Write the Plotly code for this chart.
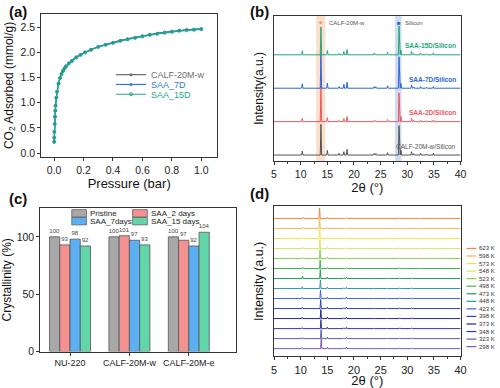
import plotly.graph_objects as go

FONT = "Liberation Sans, Arial, sans-serif"
W, H = 500, 388

# ---------------- (a) CO2 isotherms ----------------
pressure = [0.0005, 0.001, 0.002, 0.004, 0.006, 0.008, 0.01, 0.015, 0.02, 0.03, 0.04, 0.05, 0.06,
            0.07, 0.08, 0.1, 0.12, 0.15, 0.18, 0.21, 0.25, 0.3, 0.35, 0.4, 0.45, 0.5, 0.55,
            0.6, 0.65, 0.7, 0.75, 0.8, 0.85, 0.9, 0.95, 1.0]
uptake_calf = [0.22, 0.30, 0.42, 0.58, 0.72, 0.84, 0.94, 1.10, 1.22, 1.38, 1.49, 1.57, 1.63,
               1.68, 1.72, 1.78, 1.83, 1.90, 1.96, 2.00, 2.06, 2.11, 2.16, 2.20, 2.24, 2.27,
               2.30, 2.33, 2.36, 2.38, 2.40, 2.42, 2.44, 2.45, 2.46, 2.47]
uptake_7d = [0.22, 0.31, 0.43, 0.59, 0.73, 0.85, 0.95, 1.11, 1.23, 1.39, 1.50, 1.58, 1.64,
             1.69, 1.73, 1.79, 1.84, 1.91, 1.96, 2.01, 2.06, 2.12, 2.16, 2.20, 2.24, 2.27,
             2.30, 2.33, 2.36, 2.38, 2.40, 2.42, 2.44, 2.45, 2.46, 2.47]
uptake_15d = [0.23, 0.31, 0.42, 0.58, 0.72, 0.84, 0.94, 1.10, 1.22, 1.38, 1.49, 1.57, 1.63,
              1.68, 1.72, 1.78, 1.83, 1.90, 1.95, 2.00, 2.05, 2.11, 2.15, 2.19, 2.23, 2.26,
              2.29, 2.32, 2.35, 2.37, 2.39, 2.41, 2.43, 2.44, 2.45, 2.46]
iso_names = ["CALF-20M-w", "SAA_7D", "SAA_15D"]
iso_colors = ["#6e6e6e", "#2f7bd4", "#22a887"]

# ---------------- (b) PXRD with silicon ----------------
b_peaks = [10.3, 13.8, 15.0, 17.2, 18.1, 18.7, 23.8, 24.1, 26.3, 28.45, 28.8, 30.8, 31.2, 32.5, 33.6, 34.9]
b_names = ["CALF-20M-w/Silicon", "SAA-2D/Silicon", "SAA-7D/Silicon", "SAA-15D/Silicon"]
b_colors = ["#555555", "#e8585c", "#2a66d6", "#23a877"]
b_heights = [
    [0.12, 0.92, 0.14, 0.05, 0.10, 0.17, 0.05, 0.04, 0.07, 0.88, 0.15, 0.10, 0.04, 0.05, 0.03, 0.06],
    [0.10, 1.06, 0.12, 0.04, 0.09, 0.15, 0.04, 0.03, 0.06, 0.86, 0.15, 0.10, 0.04, 0.04, 0.03, 0.05],
    [0.13, 1.08, 0.15, 0.05, 0.12, 0.18, 0.05, 0.04, 0.07, 0.94, 0.14, 0.10, 0.04, 0.05, 0.03, 0.05],
    [0.12, 0.83, 0.13, 0.04, 0.10, 0.16, 0.05, 0.03, 0.07, 0.86, 0.14, 0.10, 0.04, 0.05, 0.03, 0.06],
]
b_offsets = [0, 1, 2, 3]

# ---------------- (c) crystallinity bars ----------------
c_categories = ["NU-220", "CALF-20M-w", "CALF-20M-e"]
c_series = ["Pristine", "SAA_2 days", "SAA_7days", "SAA_15 days"]
c_values = [
    [100, 100, 100],
    [93, 101, 97],
    [98, 97, 92],
    [92, 93, 104],
]
c_colors = ["#a8a8a8", "#f49191", "#5cb0f2", "#62d6a8"]

# ---------------- (d) variable-temperature PXRD ----------------
temps = [298, 323, 348, 373, 398, 423, 448, 473, 498, 523, 548, 573, 598, 623]
d_colors = ["#7e57b5", "#5a5ea8", "#2f3c8f", "#1f2a8a", "#2b43b8", "#3c64d2", "#2c93b4",
            "#1f9d55", "#3cb84a", "#8fd14f", "#d8e65a", "#f6e14b", "#f7b948", "#f2873a"]
main_pos = [13.85, 13.83, 13.8, 13.78, 13.75, 13.72, 13.7, 13.68, 13.65, 13.63, 13.6, 13.58, 13.56, 13.55]
main_h = [0.95, 0.9, 0.9, 0.9, 0.9, 0.85, 0.85, 0.9, 0.85, 0.9, 0.9, 0.9, 0.9, 1.05]
p10_pos = [10.3, 10.3, 10.3, 10.3, 10.3, 10.3, 10.3, 10.35, 10.4, 10.45, 10.45, 10.5, 10.5, 10.5]
p10_h = [0.1, 0.1, 0.1, 0.12, 0.12, 0.12, 0.18, 0.25, 0.12, 0.1, 0.1, 0.1, 0.1, 0.1]
d_minor_pos = [15.0, 18.1, 18.6, 23.8, 26.2, 28.6, 30.8, 32.4, 34.9]
d_minor_h_low = [0.15, 0.08, 0.14, 0.04, 0.05, 0.08, 0.05, 0.04, 0.04]
d_minor_h_high = [0.12, 0.04, 0.06, 0.02, 0.03, 0.08, 0.03, 0.02, 0.02]


def pattern(peaks, heights, offset, width=0.13):
    xs, ys = [5.0], [offset]
    for p, h in sorted(zip(peaks, heights)):
        xs += [p - width, p, p + width]
        ys += [offset, offset + h, offset]
    xs.append(40.0)
    ys.append(offset)
    return xs, ys


def px(x):
    return x / W


def py(y):
    return 1 - y / H


fig = go.Figure()

# (a)
legend_rows_a = [76, 86, 96]
for i, (nm, ys, col) in enumerate(zip(iso_names, [uptake_calf, uptake_7d, uptake_15d], iso_colors)):
    lg = "legend" if i == 0 else f"legend{i + 1}"
    fig.add_trace(go.Scatter(
        x=pressure, y=ys, name=nm, mode="lines+markers",
        line=dict(color=col, width=1.2),
        marker=dict(size=3, color=col, symbol="circle" if i < 2 else "circle-open"),
        xaxis="x", yaxis="y", legend=lg))

# (b)
for nm, hts, off, col in zip(b_names, b_heights, b_offsets, b_colors):
    xs, ys = pattern(b_peaks, hts, off)
    fig.add_trace(go.Scatter(x=xs, y=ys, mode="lines", line=dict(color=col, width=1),
                             showlegend=False, xaxis="x2", yaxis="y2"))

# (c)
for nm, vals, col in zip(c_series, c_values, c_colors):
    fig.add_trace(go.Bar(
        x=c_categories, y=vals, name=nm, showlegend=False,
        marker=dict(color=col, line=dict(color="#555555", width=0.8)),
        text=[str(v) for v in vals], textposition="outside", constraintext="none",
        textfont=dict(size=6, color="#444444", family=FONT), cliponaxis=False,
        xaxis="x3", yaxis="y3"))

# (d)
for i, T in enumerate(temps):
    minor_h = d_minor_h_low if T <= 473 else d_minor_h_high
    peaks = [p10_pos[i], main_pos[i]] + d_minor_pos
    hts = [p10_h[i], main_h[i]] + minor_h
    xs, ys = pattern(peaks, hts, i, width=0.12)
    fig.add_trace(go.Scatter(x=xs, y=ys, mode="lines", line=dict(color=d_colors[i], width=1),
                             name=f"{T} K", showlegend=False, xaxis="x4", yaxis="y4"))

axis_common = dict(showline=True, linecolor="#333333", linewidth=1, mirror=True,
                   ticks="outside", ticklen=3, tickcolor="#333333", showgrid=False, zeroline=False,
                   tickfont=dict(family=FONT, size=10.5, color="#222222"))

shapes = []
# shaded bands in (b)
shapes.append(dict(type="rect", xref="x2", yref="y2 domain", x0=12.9, x1=14.6, y0=0, y1=1,
                   fillcolor="rgba(245,160,110,0.35)", line=dict(width=0), layer="below"))
shapes.append(dict(type="rect", xref="x2", yref="y2 domain", x0=27.7, x1=28.9, y0=0, y1=1,
                   fillcolor="rgba(120,150,220,0.35)", line=dict(width=0), layer="below"))

annotations = []
for lbl, x, y in [("(a)", 4, 12), ("(b)", 249, 12), ("(c)", 4, 202), ("(d)", 249, 197)]:
    annotations.append(dict(text=f"<b>{lbl}</b>", x=px(x), y=py(y), xref="paper", yref="paper",
                            xanchor="left", yanchor="middle", showarrow=False,
                            font=dict(family=FONT, size=15, color="#111111")))

# (b) labels
annotations.append(dict(text="*", x=13.8, y=py(24), xref="x2", yref="paper", showarrow=False,
                        font=dict(family=FONT, size=9, color="#f07a30"), yanchor="middle"))
annotations.append(dict(text="CALF-20M-w", x=14.95, y=py(23), xref="x2", yref="paper", showarrow=False,
                        xanchor="left", font=dict(family=FONT, size=6, color="#555555"), yanchor="middle"))
annotations.append(dict(text="■", x=28.4, y=py(23), xref="x2", yref="paper", showarrow=False,
                        font=dict(family=FONT, size=6, color="#2a66d6"), yanchor="middle"))
annotations.append(dict(text="Silicon", x=29.2, y=py(23), xref="x2", yref="paper", showarrow=False,
                        xanchor="left", font=dict(family=FONT, size=6, color="#555555"), yanchor="middle"))
for nm, off, col in zip(b_names, b_offsets, b_colors):
    bold = nm != "CALF-20M-w/Silicon"
    annotations.append(dict(text=f"<b>{nm}</b>" if bold else nm, x=39.6, y=off + 0.27, xref="x2", yref="y2",
                            xanchor="right", yanchor="middle", showarrow=False,
                            font=dict(family=FONT, size=6.5, color=col)))

# (c) legend, drawn as boxes + labels (two columns)
c_leg_cells = [(70, 213.5), (132, 213.5), (70, 221.5), (132, 221.5)]
for nm, col, (lx, ly) in zip(c_series, c_colors, c_leg_cells):
    shapes.append(dict(type="rect", xref="paper", yref="paper", x0=px(lx), x1=px(lx + 15),
                       y0=py(ly + 7.5), y1=py(ly), fillcolor=col,
                       line=dict(color="#555555", width=0.7)))
    annotations.append(dict(text=nm, x=px(lx + 16.5), y=py(ly + 3.9), xref="paper", yref="paper",
                            xanchor="left", yanchor="middle", showarrow=False,
                            font=dict(family=FONT, size=8, color="#222222")))

# (d) legend
for i, T in enumerate(temps):
    yy = 353 - i * (100 / 13)
    shapes.append(dict(type="line", xref="paper", yref="paper", x0=px(472), x1=px(482),
                       y0=py(yy), y1=py(yy), line=dict(color=d_colors[i], width=1.2)))
    annotations.append(dict(text=f"{T} K", x=px(482.5), y=py(yy), xref="paper", yref="paper",
                            xanchor="left", yanchor="middle", showarrow=False,
                            font=dict(family=FONT, size=6, color="#333333")))

legend_base = dict(bgcolor="rgba(0,0,0,0)", borderwidth=0, xanchor="left", yanchor="middle",
                   tracegroupgap=0, itemwidth=30)
layout_legends = {}
for i, (row, col) in enumerate(zip(legend_rows_a, iso_colors)):
    key = "legend" if i == 0 else f"legend{i + 1}"
    layout_legends[key] = dict(legend_base, x=px(110), y=py(row),
                               font=dict(family=FONT, size=9, color=col))

title_font = dict(family=FONT, size=13, color="#111111")

fig.update_layout(
    width=W, height=H, margin=dict(l=0, r=0, t=0, b=0),
    paper_bgcolor="white", plot_bgcolor="white",
    font=dict(family=FONT),
    barmode="group", bargap=0.31, bargroupgap=0,
    xaxis=dict(axis_common, domain=[px(39), px(218)], range=[-0.087, 1.107], anchor="y",
               tickvals=[0, 0.2, 0.4, 0.6, 0.8, 1.0], tickformat=".1f",
               title=dict(text="Pressure (bar)", font=title_font, standoff=4)),
    yaxis=dict(axis_common, domain=[py(160), py(14)], range=[-0.08, 2.77], anchor="x",
               tickvals=[0, 0.5, 1.0, 1.5, 2.0, 2.5], tickformat=".1f",
               title=dict(text="CO<sub>2</sub> Adsorbed (mmol/g)", font=dict(title_font, size=12), standoff=4)),
    xaxis2=dict(axis_common, domain=[px(276), px(466)], range=[5, 40], anchor="y2",
                tickvals=[5, 10, 15, 20, 25, 30, 35, 40],
                minor=dict(dtick=2.5, tick0=5, ticks="outside", ticklen=2, tickcolor="#333333"),
                title=dict(text="2θ (°)", font=title_font, standoff=2)),
    yaxis2=dict(axis_common, domain=[py(164), py(16)], range=[-0.18, 4.17], anchor="x2",
                ticks="", showticklabels=False,
                title=dict(text="Intensity(a.u.)", font=dict(title_font, size=12), standoff=6)),
    xaxis3=dict(axis_common, domain=[px(38), px(237)], range=[-0.5, 2.79], anchor="y3",
                type="category", tickfont=dict(family=FONT, size=9, color="#222222")),
    yaxis3=dict(axis_common, domain=[py(358), py(212)], range=[0, 125], anchor="x3",
                tickvals=[0, 50, 100], tickfont=dict(family=FONT, size=10.5, color="#222222"),
                title=dict(text="Crystallinity (%)", font=dict(title_font, size=12), standoff=8)),
    xaxis4=dict(axis_common, domain=[px(276), px(466)], range=[5, 40], anchor="y4",
                tickvals=[5, 10, 15, 20, 25, 30, 35, 40],
                tickfont=dict(family=FONT, size=11, color="#222222"),
                minor=dict(dtick=2.5, tick0=5, ticks="outside", ticklen=2, tickcolor="#333333"),
                title=dict(text="2θ (°)", font=dict(title_font, size=13), standoff=3)),
    yaxis4=dict(axis_common, domain=[py(363), py(210)], range=[-0.78, 14.22], anchor="x4",
                ticks="", showticklabels=False,
                title=dict(text="Intensity (a.u.)", font=dict(title_font, size=12.5), standoff=6)),
    shapes=shapes, annotations=annotations,
    **layout_legends,
)

fig.write_html("out.html", config={"displayModeBar": False},
               post_script="document.body.style.margin='0';document.body.style.overflow='hidden';")
